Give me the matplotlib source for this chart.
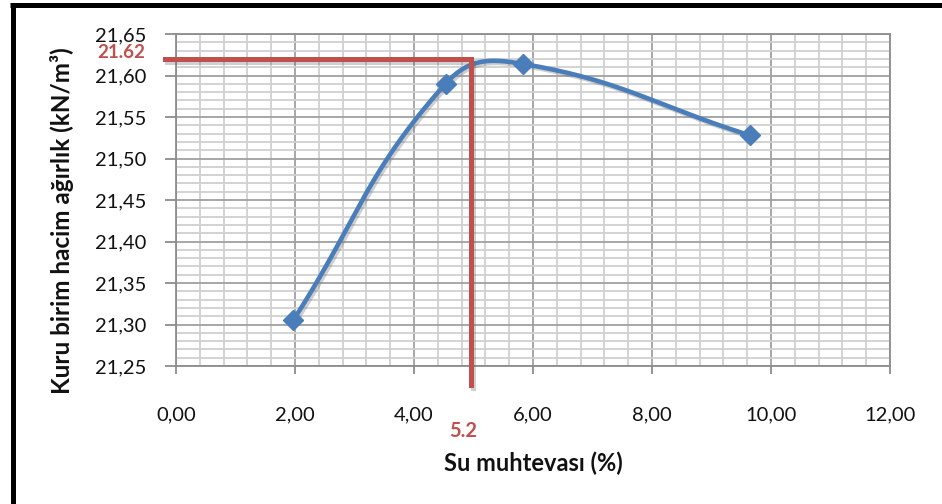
import numpy as np
import matplotlib
matplotlib.use("Agg")
import matplotlib.pyplot as plt
import matplotlib.patheffects as pe
from matplotlib.lines import Line2D
from matplotlib.patches import Rectangle

# ---- data ----
water_content = [1.97, 4.53, 5.83, 9.64]          # Su muhtevası (%)
dry_unit_weight = [21.305, 21.590, 21.614, 21.528]  # kN/m3
x_ticks = [0, 2, 4, 6, 8, 10, 12]
y_ticks = [21.25, 21.30, 21.35, 21.40, 21.45, 21.50, 21.55, 21.60, 21.65]
opt_w = 4.95        # position of vertical red guide
opt_gamma = 21.62   # position of horizontal red guide
opt_w_label = "5.2"
opt_gamma_label = "21.62"

plt.rcParams['font.family'] = ['Lato', 'DejaVu Sans']

W, H = 942, 504
fig = plt.figure(figsize=(W / 100, H / 100), dpi=100)
fig.patch.set_facecolor('white')

def fx(px):
    return px / W

def fy(py):
    return 1 - py / H

ax = fig.add_axes([fx(176), fy(366), (890 - 176) / W, (366 - 34) / H])
ax.set_xlim(0, 12)
ax.set_ylim(21.25, 21.65)
ax.set_xticks(x_ticks)
ax.set_xticklabels([f"{v:.2f}".replace('.', ',') for v in x_ticks])
ax.set_yticks(y_ticks)
ax.set_yticklabels([f"{v:.2f}".replace('.', ',') for v in y_ticks])
ax.set_xticks(np.arange(0, 12.001, 0.4), minor=True)
ax.set_yticks(np.arange(21.25, 21.6501, 0.01), minor=True)
ax.grid(which='minor', color='#d0d0d0', lw=1.3, zorder=0)
ax.grid(which='major', color='#a0a0a0', lw=1.3, zorder=0)
ax.set_axisbelow(True)
for s in ax.spines.values():
    s.set_color('#8c8c8c')
    s.set_linewidth(1.3)
ax.tick_params(which='minor', length=0)
ax.tick_params(which='major', direction='out', color='#8c8c8c', width=1.3,
               labelsize=14.5, labelcolor='#111111')
ax.tick_params(axis='x', which='major', length=6, pad=23)
ax.tick_params(axis='y', which='major', length=8, pad=13)

# ---- smoothed curve (Bezier, Excel-like smoothing) computed in display space ----
def smooth_curve(xd, yd, a=0.43, n=80):
    pts = ax.transData.transform(np.column_stack([xd, yd]))
    m = len(pts)
    tang = []
    for i in range(m):
        if i == 0:
            t = pts[1] - pts[0]
        elif i == m - 1:
            t = pts[-1] - pts[-2]
        else:
            t = pts[i + 1] - pts[i - 1]
        tang.append(t / np.linalg.norm(t))
    out = [pts[0]]
    tt = np.linspace(0, 1, n)[1:, None]
    for i in range(m - 1):
        p0, p3 = pts[i], pts[i + 1]
        d = np.linalg.norm(p3 - p0)
        c1 = p0 + a * d * tang[i]
        c2 = p3 - a * d * tang[i + 1]
        seg = ((1 - tt) ** 3) * p0 + 3 * ((1 - tt) ** 2) * tt * c1 + 3 * (1 - tt) * tt ** 2 * c2 + tt ** 3 * p3
        out.extend(seg)
    out = np.array(out)
    return ax.transData.inverted().transform(out)

curve = smooth_curve(water_content, dry_unit_weight)
shadow = [pe.SimpleLineShadow(offset=(1.5, -1.5), shadow_color='#777777', alpha=0.35), pe.Normal()]
ax.plot(curve[:, 0], curve[:, 1], color='#4A7EBB', lw=3.3, zorder=3,
        solid_capstyle='round', path_effects=shadow)
ax.plot(water_content, dry_unit_weight, ls='none', marker='D', ms=10,
        color='#4A7EBB', zorder=4)

# ---- red guide lines ----
ax.plot([-0.19, opt_w, opt_w], [opt_gamma, opt_gamma, 21.227], color='#C0504D',
        lw=3.6, clip_on=False, zorder=5, solid_joinstyle='miter',
        path_effects=[pe.SimpleLineShadow(offset=(1.5, -2), shadow_color='#666666', alpha=0.3), pe.Normal()])

# white box partially covering a tick label (as in the reference)
fig.add_artist(Rectangle((fx(432), fy(445)), (495 - 432) / W, (445 - 392) / H,
                         transform=fig.transFigure, facecolor='white',
                         edgecolor='none', zorder=2))

fig.text(fx(145), fy(53), opt_gamma_label, color='#C0504D', fontsize=13.5,
         fontweight='bold', ha='right', va='center', zorder=6)
fig.text(fx(463), fy(431), opt_w_label, color='#C0504D', fontsize=14.5,
         fontweight='bold', ha='center', va='center', zorder=6)

# axis titles
fig.text(fx(533), fy(463), "Su muhtevası (%)", fontsize=17, fontweight='bold',
         ha='center', va='center', color='#111111')
fig.text(fx(62), fy(221), "Kuru birim hacim ağırlık (kN/m³)", fontsize=17.5,
         fontweight='bold', ha='center', va='center', rotation=90, color='#111111')

# black frame lines (top and left)
fig.add_artist(Line2D([fx(10), 1.0], [fy(4.5), fy(4.5)], color='black', lw=3.6,
                      transform=fig.transFigure, solid_capstyle='butt'))
fig.add_artist(Line2D([fx(12.5), fx(12.5)], [fy(2.5), 0.0], color='black', lw=3.6,
                      transform=fig.transFigure, solid_capstyle='butt'))

fig.savefig("out.png", dpi=100, facecolor='white')
